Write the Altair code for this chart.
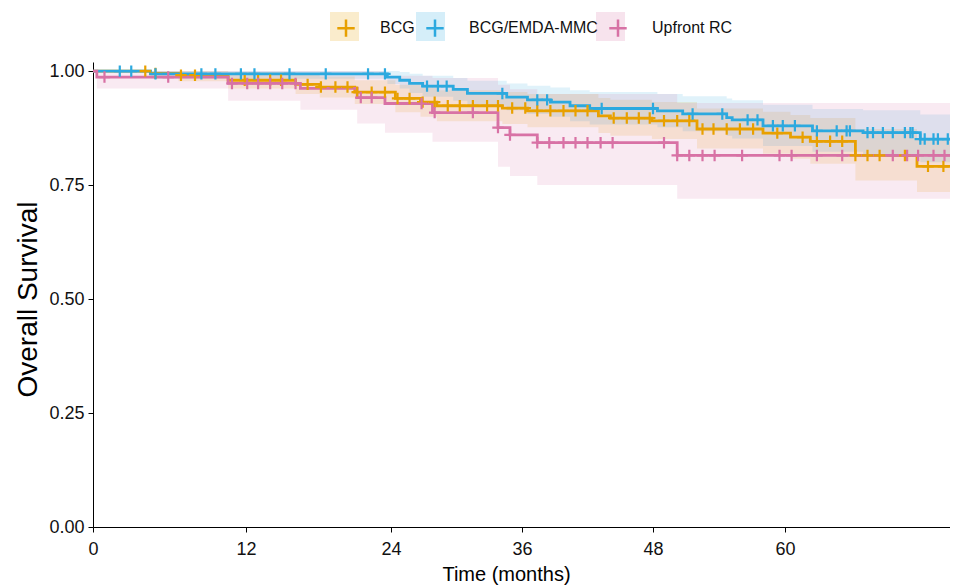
import altair as alt
import numpy as np
import pandas as pd

groups = ["BCG", "BCG/EMDA-MMC", "Upfront RC"]
colors = ["#E8A000", "#2CA9DF", "#D872A5"]
END_TIME = 75

# Kaplan-Meier steps (time in months, survival, lower CI, upper CI)
bcg_t = [0, 4.5, 6.7, 10.6, 16.1, 18.1, 21.0, 24.4, 26.7, 28.2, 34.2, 36.5, 43.0, 44.1, 47.9, 52.0, 58.0, 60.5, 62.3, 66.4, 72.0]
bcg_s = [1.0, 0.995, 0.991, 0.98, 0.971, 0.965, 0.954, 0.940, 0.932, 0.924, 0.919, 0.913, 0.902, 0.897, 0.891, 0.873, 0.864, 0.855, 0.846, 0.815, 0.791]
bcg_lo = [1.0, 0.985, 0.978, 0.962, 0.95, 0.942, 0.928, 0.91, 0.90, 0.89, 0.884, 0.877, 0.864, 0.858, 0.851, 0.83, 0.819, 0.808, 0.797, 0.76, 0.735]
bcg_hi = [1.0, 1.0, 1.0, 0.998, 0.992, 0.988, 0.98, 0.97, 0.964, 0.958, 0.954, 0.95, 0.941, 0.937, 0.932, 0.918, 0.911, 0.904, 0.897, 0.873, 0.852]

emda_t = [0, 4.5, 23.7, 24.8, 25.7, 26.9, 29.7, 31.0, 34.6, 36.5, 38.6, 40.4, 42.2, 48.4, 50.7, 54.7, 55.2, 58.0, 62.5, 67.1, 72.3]
emda_s = [1.0, 0.994, 0.987, 0.98, 0.973, 0.967, 0.96, 0.951, 0.943, 0.937, 0.932, 0.924, 0.918, 0.913, 0.906, 0.898, 0.893, 0.88, 0.869, 0.865, 0.851]
emda_lo = [1.0, 0.983, 0.972, 0.962, 0.952, 0.944, 0.935, 0.924, 0.914, 0.906, 0.9, 0.89, 0.883, 0.877, 0.868, 0.858, 0.852, 0.836, 0.823, 0.818, 0.80]
emda_hi = [1.0, 1.0, 1.0, 0.998, 0.994, 0.99, 0.985, 0.979, 0.973, 0.968, 0.964, 0.958, 0.954, 0.95, 0.945, 0.94, 0.936, 0.926, 0.917, 0.914, 0.905]

rc_t = [0, 0.3, 10.6, 16.5, 21.2, 23.5, 27.8, 33.8, 34.9, 37.4, 50.2]
rc_s = [1.0, 0.987, 0.973, 0.962, 0.942, 0.929, 0.909, 0.876, 0.860, 0.843, 0.815]
rc_lo = [1.0, 0.962, 0.935, 0.915, 0.885, 0.865, 0.845, 0.79, 0.77, 0.75, 0.72]
rc_hi = [1.0, 1.0, 1.0, 1.0, 1.0, 0.99, 0.985, 0.97, 0.96, 0.95, 0.93]

# Censoring times (months)
bcg_c = [4.1, 4.9, 6.9, 8.0, 11.9, 13.0, 14.0, 14.9, 17.1, 18.2, 19.4, 20.4, 21.2, 22.4, 23.5, 24.6, 25.7,
         26.9, 28.0, 29.2, 30.3, 31.5, 32.8, 33.8, 35.1, 36.3, 37.4, 38.6, 39.8, 40.9, 42.0, 44.4, 45.6,
         46.7, 47.7, 49.0, 50.2, 51.3, 52.5, 53.5, 54.7, 55.9, 57.1, 59.3, 61.6, 62.9, 64.1, 65.2, 66.4,
         67.5, 68.6, 70.9, 73.0, 74.4]
emda_c = [2.1, 3.0, 4.9, 8.5, 9.6, 11.6, 12.7, 15.6, 18.6, 22.1, 23.5, 27.3, 28.3, 29.1, 34.2, 37.4, 38.3,
          43.3, 48.0, 51.6, 54.3, 56.6, 57.5, 58.9, 59.8, 60.9, 62.9, 64.7, 65.6, 65.9, 67.5, 68.0, 68.9,
          69.8, 70.9, 71.4, 71.6, 72.3, 72.7, 73.5, 73.9, 74.8]
rc_c = [0.9, 5.9, 10.9, 12.1, 13.0, 14.0, 15.0, 16.1, 21.5, 22.4, 26.8, 28.0, 31.5, 33.8, 34.9, 37.4, 38.5,
        39.8, 40.9, 42.0, 43.2, 44.3, 49.0, 50.2, 51.3, 52.5, 53.6, 56.1, 59.5, 60.6, 62.9, 65.2, 69.8,
        71.1, 72.1, 73.5, 74.5]

x_ticks = [0, 12, 24, 36, 48, 60]
y_ticks = [0, 0.25, 0.5, 0.75, 1.0]

series = [
    (groups[0], bcg_t, bcg_s, bcg_lo, bcg_hi, bcg_c),
    (groups[1], emda_t, emda_s, emda_lo, emda_hi, emda_c),
    (groups[2], rc_t, rc_s, rc_lo, rc_hi, rc_c),
]

line_rows, cens_rows = [], []
for g, t, s, lo, hi, c in series:
    tt = list(t) + [END_TIME]
    ss = list(s) + [s[-1]]
    ll = list(lo) + [lo[-1]]
    hh = list(hi) + [hi[-1]]
    for a, b, d, e in zip(tt, ss, ll, hh):
        line_rows.append({"band": g, "curve": g, "time": a, "surv": b, "lo": d, "hi": e})
    ta = np.array(t)
    for ct in c:
        idx = np.searchsorted(ta, ct, side="right") - 1
        cens_rows.append({"curve": g, "time": ct, "surv": s[idx]})

df_lines = pd.DataFrame(line_rows)
df_cens = pd.DataFrame(cens_rows)

FONT = "Liberation Sans"

x_enc = alt.X(
    "time:Q",
    scale=alt.Scale(domain=[0, 12, 24, 36, 48, 60, 75], range=[0, 153, 298, 429, 560, 692, 857], nice=False, zero=False),
    axis=alt.Axis(values=x_ticks, title="Time (months)", grid=False, titleX=413, titleY=53,
                  titleAlign="center", titleBaseline="alphabetic", labelPadding=8, labelFlush=False),
)
y_scale = alt.Scale(domain=[0, 1.02], nice=False, zero=False)
y_axis = alt.Axis(values=y_ticks, format=".2f", title="Overall Survival", grid=False, titleX=-57, titleY=237,
                  titleAlign="center", titleBaseline="alphabetic", titleFontSize=28, labelPadding=4)

LEG_Y = -50
KEY = 841  # legend key area (29 x 29 px)
key_x = [237, 323, 503]  # left edge of each key box, relative to the plot

# light key boxes behind the legend crosses (one single-entry legend per group)
bands = []
for i, g in enumerate(groups):
    bands.append(
        alt.Chart(df_lines).transform_filter(alt.datum.band == g).mark_area(interpolate="step-after", opacity=0.15).encode(
            x=x_enc,
            y=alt.Y("lo:Q", scale=y_scale, axis=y_axis),
            y2="hi:Q",
            fill=alt.Fill("band:N", scale=alt.Scale(domain=[g], range=[colors[i]]),
                          legend=alt.Legend(orient="none", legendX=key_x[i], legendY=LEG_Y, title=None,
                                            symbolType="M-1,-1H1V1H-1Z", symbolSize=KEY, symbolOpacity=0.2,
                                            symbolStrokeWidth=0, labelExpr="''", labelOffset=0, padding=0)),
        )
    )

stroke_legend = alt.Legend(orient="none", legendX=key_x[0], legendY=LEG_Y, direction="horizontal", title=None,
                           labelFont=FONT, labelFontSize=16, labelColor="#111111", symbolSize=KEY,
                           labelOffset=18, columnPadding=4, padding=0,
                           symbolType="M-0.6,0H0.6M0,-0.6V0.6", symbolStrokeWidth=2.5,
                           symbolFillColor="transparent")
stroke_scale = alt.Scale(domain=groups, range=colors)

line = alt.Chart(df_lines).mark_line(interpolate="step-after", strokeWidth=2.8).encode(
    x=x_enc,
    y=alt.Y("surv:Q", scale=y_scale, axis=y_axis),
    stroke=alt.Stroke("curve:N", scale=stroke_scale, legend=stroke_legend),
)

points = alt.Chart(df_cens).mark_point(shape="M-1,0H1M0,-1V1", size=130, strokeWidth=2.2, filled=False, opacity=1).encode(
    x=x_enc,
    y=alt.Y("surv:Q", scale=y_scale, axis=y_axis),
    stroke=alt.Stroke("curve:N", scale=stroke_scale, legend=stroke_legend),
)

chart = alt.layer(*bands, line, points).resolve_scale(fill="independent").properties(
    width=857,
    height=465,
    autosize=alt.AutoSizeParams(type="none"),
    padding={"left": 85, "top": 54, "right": 0, "bottom": 59},
    background="white",
).configure_view(stroke="transparent").configure_axis(
    domainColor="#000000", domainWidth=1, tickColor="#000000", tickSize=5, tickWidth=1,
    labelFont=FONT, labelFontSize=18, labelColor="#111111",
    titleFont=FONT, titleFontSize=20, titleColor="#000000", titleFontWeight="normal",
)

chart.save("out.html", embed_options={"renderer": "svg", "actions": False})
